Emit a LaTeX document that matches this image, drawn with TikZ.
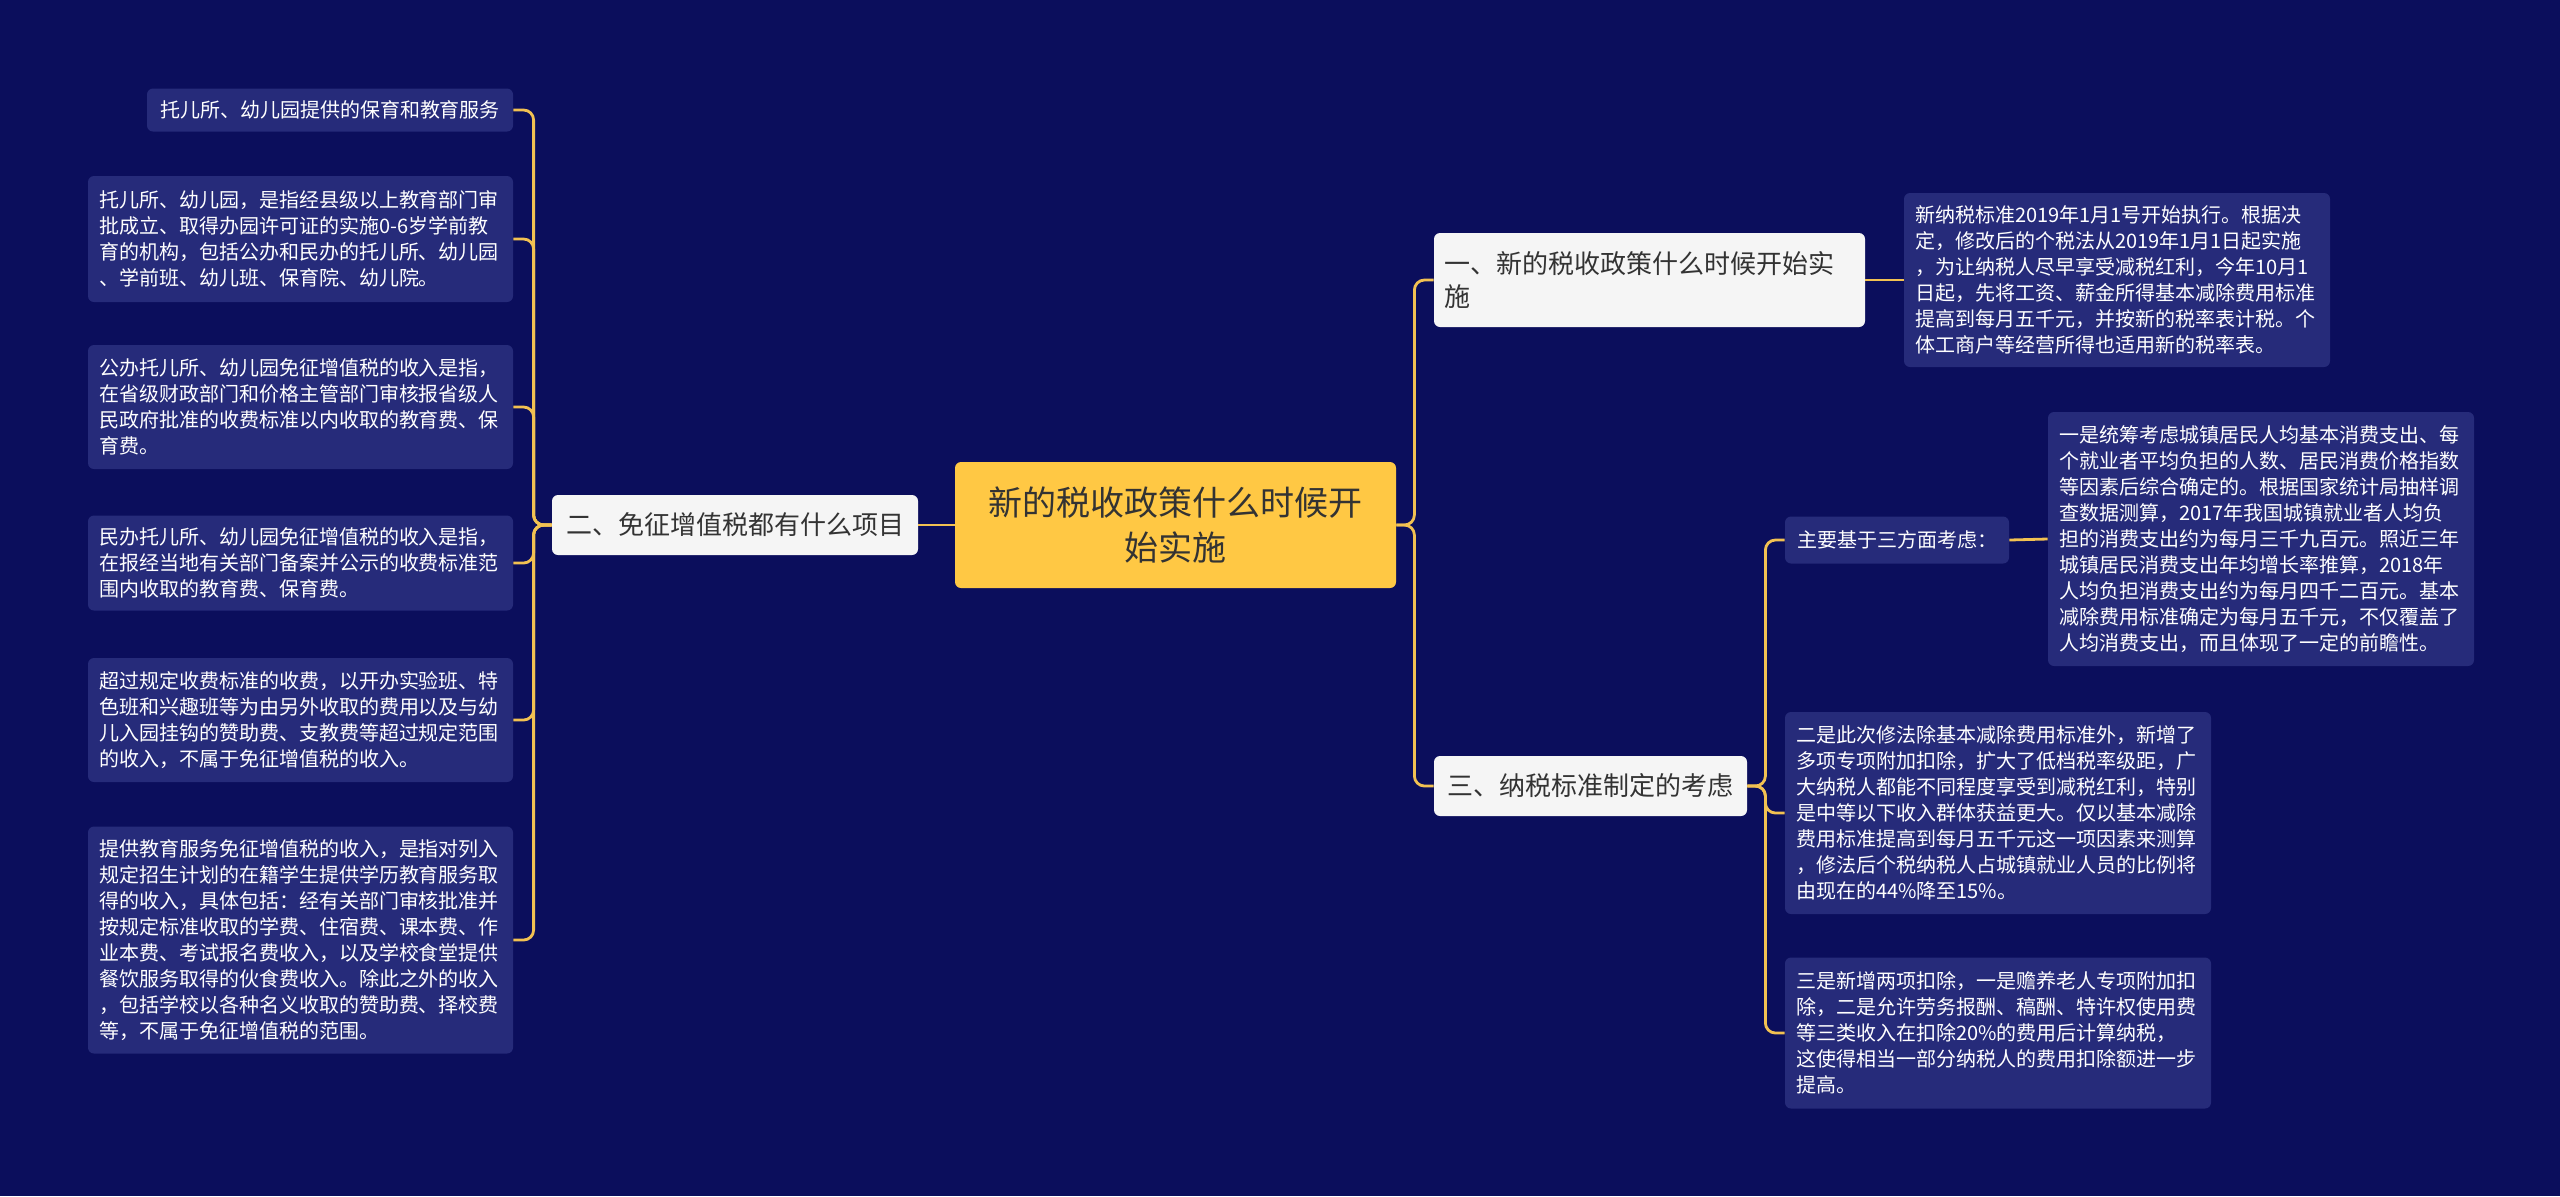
\documentclass[tikz,border=0pt]{standalone}
\usepackage{fontspec}
\setmainfont{Noto Sans CJK SC}
\definecolor{bg}{HTML}{0B0E5C}
\definecolor{leaffill}{HTML}{262B7A}
\definecolor{rootfill}{HTML}{FFC844}
\definecolor{lonefill}{HTML}{F5F5F5}
\definecolor{linecol}{HTML}{F2C152}
\definecolor{darktext}{HTML}{333333}
\tikzset{
  box/.style={rounded corners=3pt, inner ysep=4pt, anchor=center},
  leaf/.style={box, fill=leaffill, text=white, align=left, inner xsep=5.5pt,
     font=\fontsize{10pt}{13pt}\selectfont, text width=#1},
  leaf/.default=202pt,
  lone/.style={box, fill=lonefill, text=darktext, align=left, inner xsep=5pt,
     font=\fontsize{13pt}{16.5pt}\selectfont},
  rootbox/.style={box, fill=rootfill, text=darktext, align=center,
     font=\fontsize{17pt}{22.5pt}\selectfont},
  conn/.style={draw=linecol, line width=1.4pt, rounded corners=5pt},
}
\begin{document}
\begin{tikzpicture}[x=0.5pt, y=-0.5pt]
\useasboundingbox (0,0) rectangle (2560,1196);
\fill[bg] (0,0) rectangle (2560,1196);

% root
\node[rootbox, minimum width=220.5pt, minimum height=63pt] (root) at (1175.5,525) {新的税收政策什么时候开\\始实施};

% level 1
\node[lone, minimum width=183pt, minimum height=30pt, align=center] (n2) at (735,525) {二、免征增值税都有什么项目};
\node[lone, text width=205.5pt, minimum height=47pt] (n1) at (1649.5,280) {一、新的税收政策什么时候开始实\\施};
\node[lone, minimum width=156.5pt, minimum height=30pt, align=center] (n3) at (1590.5,786) {三、纳税标准制定的考虑};

% right leaves
\node[leaf, minimum height=87pt] (la) at (2117,280) {新纳税标准2019年1月1号开始执行。根据决\\定，修改后的个税法从2019年1月1日起实施\\，为让纳税人尽早享受减税红利，今年10月1\\日起，先将工资、薪金所得基本减除费用标准\\提高到每月五千元，并按新的税率表计税。个\\体工商户等经营所得也适用新的税率表。};
\node[box, fill=leaffill, text=white, font=\fontsize{10pt}{12pt}\selectfont, minimum width=112pt, minimum height=23.5pt] (mid) at (1897,540) {主要基于三方面考虑：};
\node[leaf, minimum height=127pt] (lb) at (2261,539) {一是统筹考虑城镇居民人均基本消费支出、每\\个就业者平均负担的人数、居民消费价格指数\\等因素后综合确定的。根据国家统计局抽样调\\查数据测算，2017年我国城镇就业者人均负\\担的消费支出约为每月三千九百元。照近三年\\城镇居民消费支出年均增长率推算，2018年\\人均负担消费支出约为每月四千二百元。基本\\减除费用标准确定为每月五千元，不仅覆盖了\\人均消费支出，而且体现了一定的前瞻性。};
\node[leaf, minimum height=101pt] (lc) at (1998,813) {二是此次修法除基本减除费用标准外，新增了\\多项专项附加扣除，扩大了低档税率级距，广\\大纳税人都能不同程度享受到减税红利，特别\\是中等以下收入群体获益更大。仅以基本减除\\费用标准提高到每月五千元这一项因素来测算\\，修法后个税纳税人占城镇就业人员的比例将\\由现在的44\%降至15\%。};
\node[leaf, minimum height=75.5pt] (ld) at (1998,1033) {三是新增两项扣除，一是赡养老人专项附加扣\\除，二是允许劳务报酬、稿酬、特许权使用费\\等三类收入在扣除20\%的费用后计算纳税，\\这使得相当一部分纳税人的费用扣除额进一步\\提高。};

% left leaves
\node[box, fill=leaffill, text=white, font=\fontsize{10pt}{13pt}\selectfont, minimum width=183pt, minimum height=21.5pt] (e1) at (330,110) {托儿所、幼儿园提供的保育和教育服务};
\node[leaf=201.5pt, minimum height=63pt] (e2) at (300.5,239) {托儿所、幼儿园，是指经县级以上教育部门审\\批成立、取得办园许可证的实施0-6岁学前教\\育的机构，包括公办和民办的托儿所、幼儿园\\、学前班、幼儿班、保育院、幼儿院。};
\node[leaf=201.5pt, minimum height=62pt] (e3) at (300.5,407) {公办托儿所、幼儿园免征增值税的收入是指，\\在省级财政部门和价格主管部门审核报省级人\\民政府批准的收费标准以内收取的教育费、保\\育费。};
\node[leaf=201.5pt, minimum height=47.5pt] (e4) at (300.5,563) {民办托儿所、幼儿园免征增值税的收入是指，\\在报经当地有关部门备案并公示的收费标准范\\围内收取的教育费、保育费。};
\node[leaf=201.5pt, minimum height=62pt] (e5) at (300.5,720) {超过规定收费标准的收费，以开办实验班、特\\色班和兴趣班等为由另外收取的费用以及与幼\\儿入园挂钩的赞助费、支教费等超过规定范围\\的收入，不属于免征增值税的收入。};
\node[leaf=201.5pt, minimum height=113.5pt] (e6) at (300.5,940) {提供教育服务免征增值税的收入，是指对列入\\规定招生计划的在籍学生提供学历教育服务取\\得的收入，具体包括：经有关部门审核批准并\\按规定标准收取的学费、住宿费、课本费、作\\业本费、考试报名费收入，以及学校食堂提供\\餐饮服务取得的伙食费收入。除此之外的收入\\，包括学校以各种名义收取的赞助费、择校费\\等，不属于免征增值税的范围。};

% connectors
\draw[conn] (root.west) -- (n2.east);
\draw[conn] (root.east) -- ++(18,0) |- (n1.west);
\draw[conn] (root.east) -- ++(18,0) |- (n3.west);
\draw[conn] (n1.east) -- (la.west);
\draw[conn] (n3.east) -- ++(18,0) |- (mid.west);
\draw[conn] (n3.east) -- ++(18,0) |- (lc.west);
\draw[conn] (n3.east) -- ++(18,0) |- (ld.west);
\draw[conn] (mid.east) -- (lb.west);
\foreach \e in {e1,e2,e3,e4,e5,e6}{
  \draw[conn] (n2.west) -- ++(-18,0) |- (\e.east);
}
\end{tikzpicture}
\end{document}
